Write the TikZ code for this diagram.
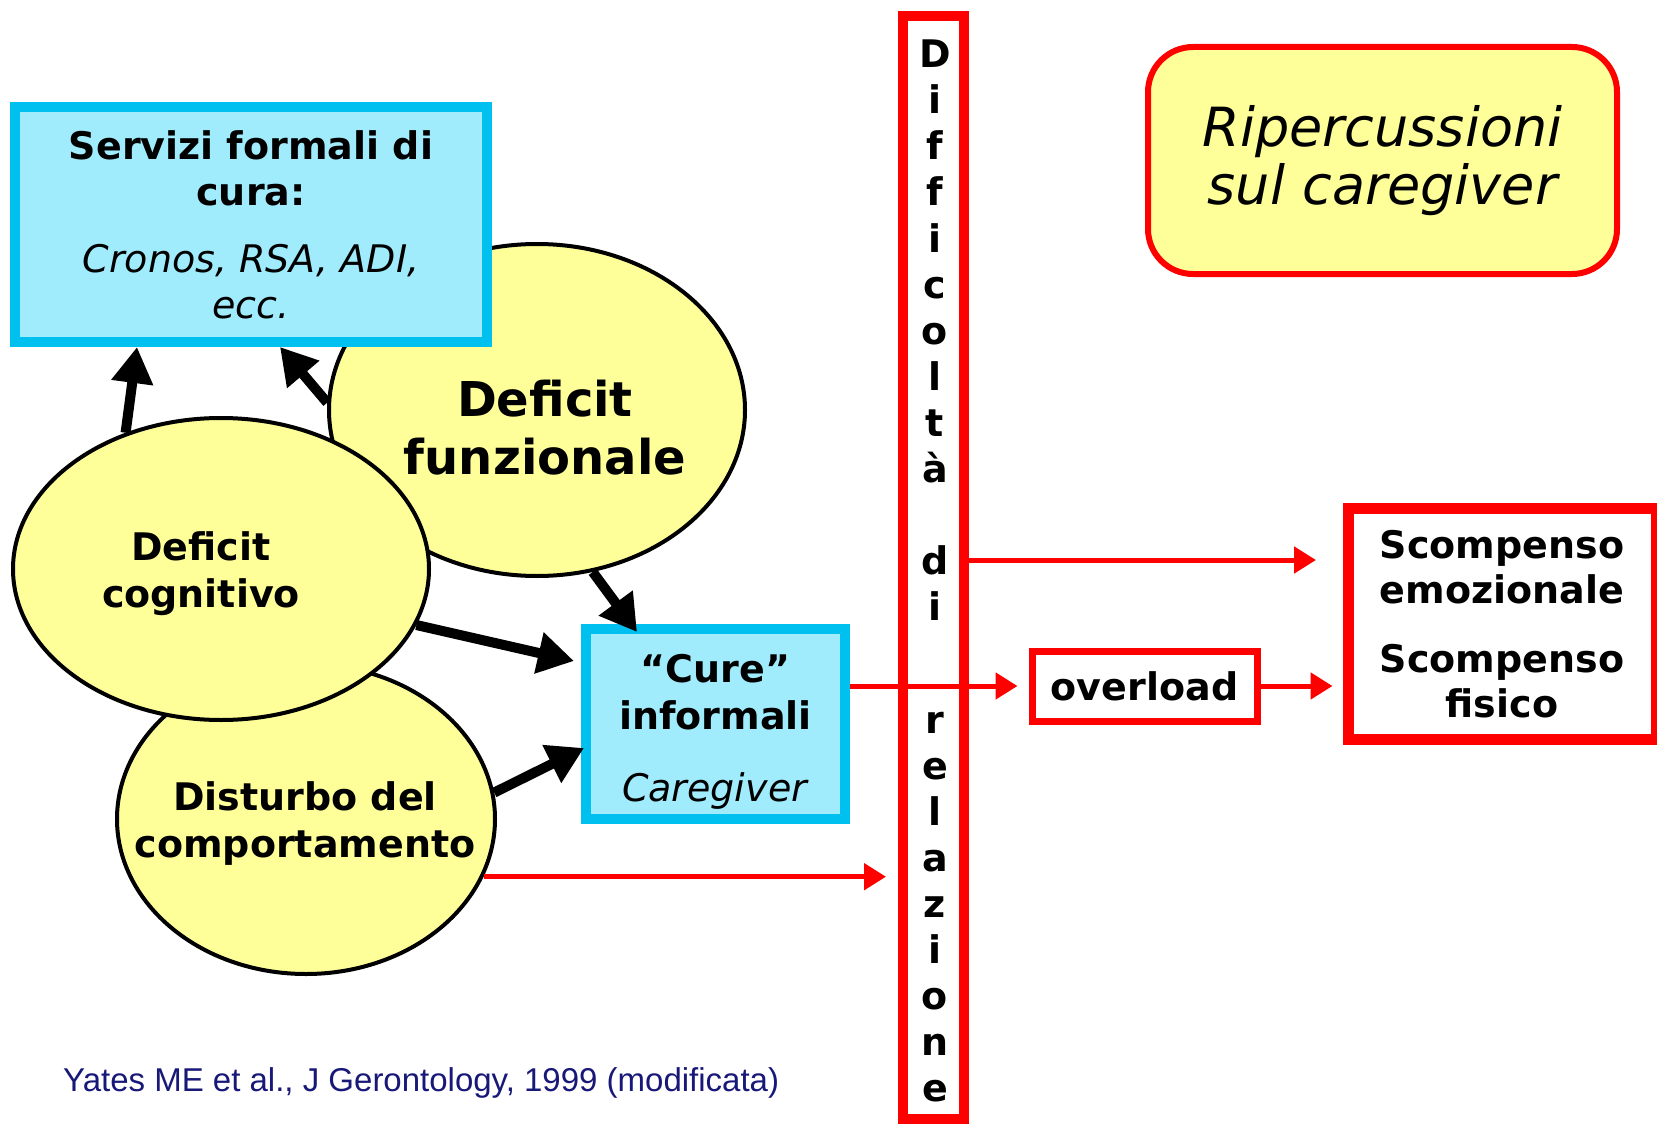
\documentclass[tikz,border=0pt]{standalone}
\usepackage{fontspec}
\setmainfont{DejaVu Sans}
\newfontfamily\citefont{Liberation Sans}
\usetikzlibrary{shapes,arrows.meta}

\definecolor{boxcyan}{RGB}{0,192,240}
\definecolor{boxfill}{RGB}{160,236,253}
\definecolor{ellfill}{RGB}{255,255,153}
\definecolor{citeblue}{RGB}{24,24,120}

\begin{document}
\begin{tikzpicture}[x=1pt,y=-1pt]
\useasboundingbox (0,0) rectangle (1657,1126);

% Define box, ellipse and arrow styles
\tikzstyle{bluebox} = [draw=boxcyan, fill=boxfill, line width=10pt,
    rectangle, inner sep=0pt, align=center,
    font=\fontsize{38}{46}\selectfont\bfseries]
\tikzstyle{yellowell} = [draw=black, fill=ellfill, line width=4pt,
    ellipse, inner sep=0pt]
\tikzstyle{elltext} = [align=center, inner sep=0pt,
    font=\fontsize{38}{47}\selectfont\bfseries]
\tikzstyle{redbox} = [draw=red, fill=white, rectangle, inner sep=0pt,
    align=center, font=\fontsize{38}{45}\selectfont\bfseries]
\tikzstyle{letter} = [anchor=base, inner sep=0pt,
    font=\fontsize{38}{46}\selectfont\bfseries]
\tikzstyle{blackarrow} = [line width=10pt, -{Triangle[length=36pt,width=40pt]}]
\tikzstyle{redarrow} = [draw=red, line width=5pt, -{Triangle[length=22pt,width=26pt]}]

% the three deficits
\node[yellowell, minimum width=416pt, minimum height=332pt] (funz) at (537,410) {};
\node[elltext, font=\fontsize{48}{58}\selectfont\bfseries] (funztext)
    at (545,428) {Deficit\\funzionale};
\node[yellowell, minimum width=378pt, minimum height=310pt] (dist) at (306,819) {};
\node[elltext] (disttext) at (305,824) {Disturbo del\\comportamento};
\node[yellowell, minimum width=416pt, minimum height=302pt] (cog) at (221,569) {};
\node[elltext] (cogtext) at (201,574) {Deficit\\cognitivo};

% care boxes
\node[bluebox, minimum width=472pt, minimum height=235pt] (serv) at (251,224.5)
    {Servizi formali di\\cura:\\[21pt]\textit{\mdseries Cronos, RSA, ADI,}\\\textit{\mdseries ecc.}};
\node[bluebox, minimum width=259pt, minimum height=190pt] (cure) at (715.5,724) {};
\node[elltext] (curetext) at (715.5,732)
    {“Cure”\\informali\\[25pt]\textit{\mdseries Caregiver}};

% vertical bar
\node[draw=red, line width=10pt, minimum width=61pt, minimum height=1103pt,
    inner sep=0pt] (diff) at (933.5,567.5) {};
\foreach \ch [count=\i from 0] in {D,i,f,f,i,c,o,l,t,à,{},d,i}
    \node[letter] (dl\i) at (935,68+46*\i) {\ch};
\foreach \ch [count=\i from 0] in {r,e,l,a,z,i,o,n,e}
    \node[letter] (rl\i) at (935,733+46*\i) {\ch};

% effects
\node[redbox, line width=7pt, minimum width=225pt, minimum height=70pt] (overload)
    at (1144.5,686) {overload};
\node[redbox, line width=11pt, minimum width=308pt, minimum height=231pt] (scomp)
    at (1502,624) {Scompenso\\emozionale\\[24pt]Scompenso\\fisico};
\node[draw=red, fill=ellfill, line width=6pt, rounded corners=45pt,
    minimum width=469pt, minimum height=227pt, align=center,
    font=\fontsize{54}{58}\selectfont\itshape] (rip) at (1382.5,160.5)
    {Ripercussioni\\sul caregiver};

\node[anchor=west, text=citeblue, inner sep=0pt,
    font=\citefont\fontsize{33}{38}\selectfont] (cite) at (63,1083)
    {Yates ME et al., J Gerontology, 1999 (modificata)};

% red arrows
\coordinate (emo) at (1316,560);
\draw[redarrow] (diff.east |- emo) -- (emo);
\draw[redarrow, shorten >=11pt] (cure.east |- overload) -- (overload.west);
\draw[redarrow, shorten >=10pt] (overload.east) -- (overload.east -| scomp.west);
\draw[redarrow, shorten >=12pt] (dist.-18) -- (dist.-18 -| diff.west);

% black arrows
\draw[blackarrow] (cog.125) -- ([xshift=-114pt]serv.south);
\draw[blackarrow] (funz.178) -- ([xshift=29pt]serv.south);
\draw[blackarrow] (funz.-71) -- ([xshift=56pt,yshift=-8pt]cure.north west);
\draw[blackarrow] (cog.-16) -- ([xshift=-7pt,yshift=63pt]cure.west);
\draw[blackarrow] (dist.8) -- ([xshift=3pt,yshift=-24pt]cure.west);
\end{tikzpicture}
\end{document}
